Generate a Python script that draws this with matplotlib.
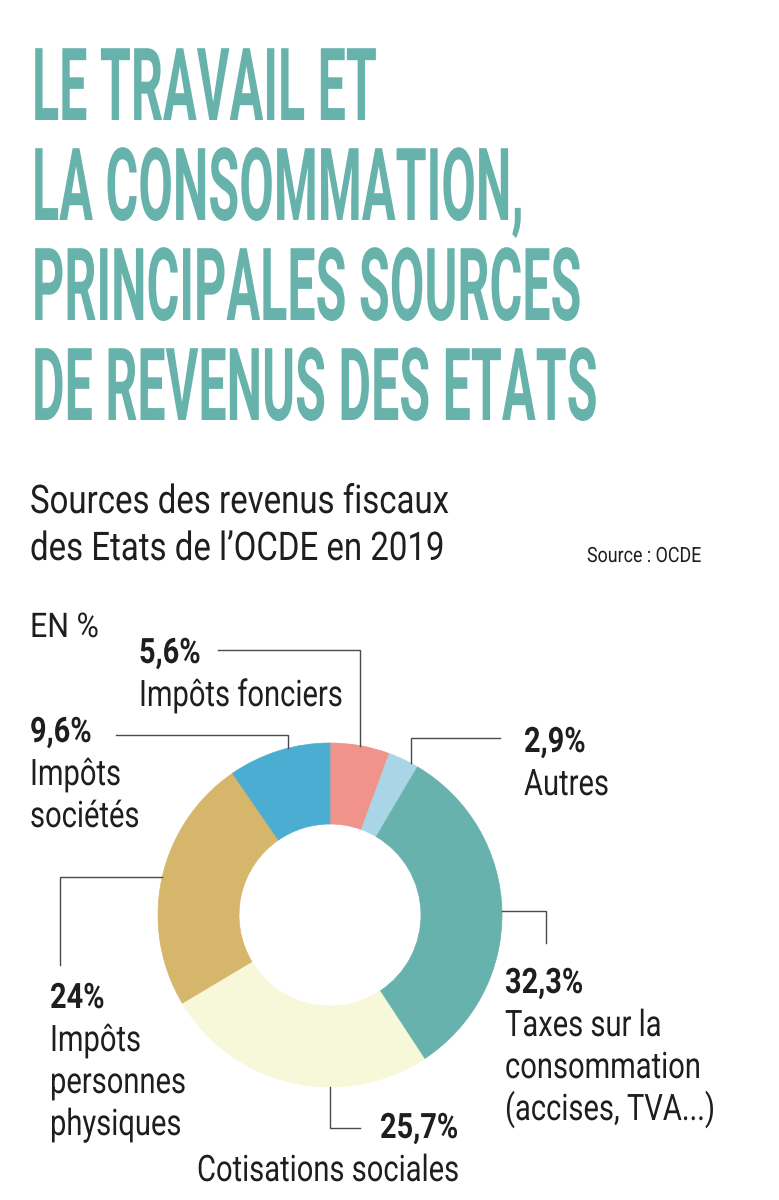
import numpy as np
import matplotlib
matplotlib.use("Agg")
import matplotlib.pyplot as plt
from matplotlib.patheffects import AbstractPathEffect
from matplotlib.transforms import Affine2D
from matplotlib.textpath import TextPath
from matplotlib.font_manager import FontProperties

# --- données : sources des revenus fiscaux des Etats de l'OCDE, 2019 (en %)
categories = ["Impôts fonciers", "Autres", "Taxes sur la consommation",
              "Cotisations sociales", "Impôts personnes physiques", "Impôts sociétés"]
values = [5.6, 2.9, 32.3, 25.7, 24.0, 9.6]
value_labels = ["5,6%", "2,9%", "32,3%", "25,7%", "24%", "9,6%"]
name_labels = [["Impôts fonciers"], ["Autres"],
               ["Taxes sur la", "consommation", "(accises, TVA...)"],
               ["Cotisations sociales"], ["Impôts", "personnes", "physiques"],
               ["Impôts", "sociétés"]]
colors = ["#F0938B", "#A9D5E6", "#68B2AD", "#F7F7D9", "#D5B66A", "#4BADD1"]

title_lines = ["LE TRAVAIL ET", "LA CONSOMMATION,", "PRINCIPALES SOURCES",
               "DE REVENUS DES ETATS"]
subtitle_lines = ["Sources des revenus fiscaux", "des Etats de l’OCDE en 2019"]
source_text = "Source : OCDE"
unit_text = "EN %"

TEAL = "#67B3AC"
INK = "#1E1E1E"
FONT = "Roboto"

W, H = 779, 1200
fig = plt.figure(figsize=(W / 100, H / 100), dpi=100)
ax = fig.add_axes([0, 0, 1, 1])


class Tall(AbstractPathEffect):
    """étire le texte verticalement (autour de la ligne de base) -> aspect condensé"""
    def __init__(self, sy):
        super().__init__()
        self.sy = sy

    def draw_path(self, renderer, gc, tpath, affine, rgbFace=None):
        renderer.draw_path(gc, tpath, Affine2D().scale(1.0, self.sy) + affine, rgbFace)


def fit(s, size_px, weight, target_px):
    # facteur de compression pour que le texte fasse target_px de large
    tp = TextPath((0, 0), s, size=size_px, prop=FontProperties(family=FONT, weight=weight))
    return target_px / tp.get_extents().width


def put(x, y, s, size_px, sx, weight="normal", color=INK):
    # police plus petite (largeur juste) puis étirée en hauteur jusqu'à size_px
    return ax.text(x, y, s, fontsize=size_px * sx * 0.72, family=FONT, fontweight=weight,
                   color=color, ha="left", va="baseline", path_effects=[Tall(1.0 / sx)])


# --- titre
title_px = 101
title_w = [338, 478, 555, 563]  # largeurs dans l'original
sx_title = np.mean([fit(s, title_px, "bold", w) for s, w in zip(title_lines, title_w)])
for i, line in enumerate(title_lines):
    put(32, 120 + 100 * i, line, title_px, sx_title, weight="bold", color=TEAL)

# --- sous-titre, source, unité
body_px = 39.5
sx_body = fit(subtitle_lines[0], body_px, "normal", 417)
for i, line in enumerate(subtitle_lines):
    put(30, 513 + 47 * i, line, body_px, sx_body)

src_px = 21
put(587, 562, source_text, src_px, fit(source_text, src_px, "normal", 113))
unit_px = 34
put(30, 637, unit_text, unit_px, fit(unit_text, unit_px, "normal", 65))

# --- anneau
cx, cy, R, r_in = 330, 915, 172, 91
wedges, _ = ax.pie(values, colors=colors, startangle=-90, counterclock=True, radius=R,
                   center=(cx, cy), frame=True,
                   wedgeprops=dict(width=R - r_in, linewidth=0.5))
for w, c in zip(wedges, colors):
    w.set_edgecolor(c)

# angle (écran, sens trigo) du point d'attache de chaque trait
cum = np.cumsum([0] + values[:-1])
mid = 90 - (cum + np.array(values) / 2) * 3.6
mid[1] = 62
mid[3] = -90  # cotisations : attache en bas de l'anneau
mid[5] = -256

# traits : (première direction, coordonnée du coude, coordonnée de fin)
leaders = [("v", 650, 218), ("v", 738, 500), ("h", 546, 943),
           ("v", 1128, 360), ("h", 60, 965), ("v", 735, 116)]
for ang, (d, c1, c2) in zip(mid, leaders):
    x0 = cx + R * np.cos(np.radians(ang))
    y0 = cy - R * np.sin(np.radians(ang))
    if d == "v":
        xs, ys = [x0, x0, c2], [y0, c1, c1]
    else:
        xs, ys = [x0, c1, c1], [y0, y0, c2]
    ax.plot(xs, ys, color="#4A4A4A", lw=1.0, solid_joinstyle="miter")

# --- étiquettes (x, ligne de base de la valeur)
label_pos = [(139, 663), (524, 752), (505, 993), (380, 1138), (50, 1008), (30, 742)]
name_x = [139, 524, 505, 197, 50, 30]
val_px = 35
lab_px = 36.5
sx_val = fit("25,7%", val_px, "bold", 76)
sx_lab = fit("Cotisations sociales", lab_px, "normal", 259)
for (vx, vy), nx, v, names in zip(label_pos, name_x, value_labels, name_labels):
    put(vx, vy, v, val_px, sx_val, weight="bold")
    for j, line in enumerate(names):
        put(nx, vy + 43 + 42 * j, line, lab_px, sx_lab)

ax.set_xlim(0, W)
ax.set_ylim(H, 0)
ax.axis("off")

fig.savefig("out.png", dpi=100, facecolor="white")
